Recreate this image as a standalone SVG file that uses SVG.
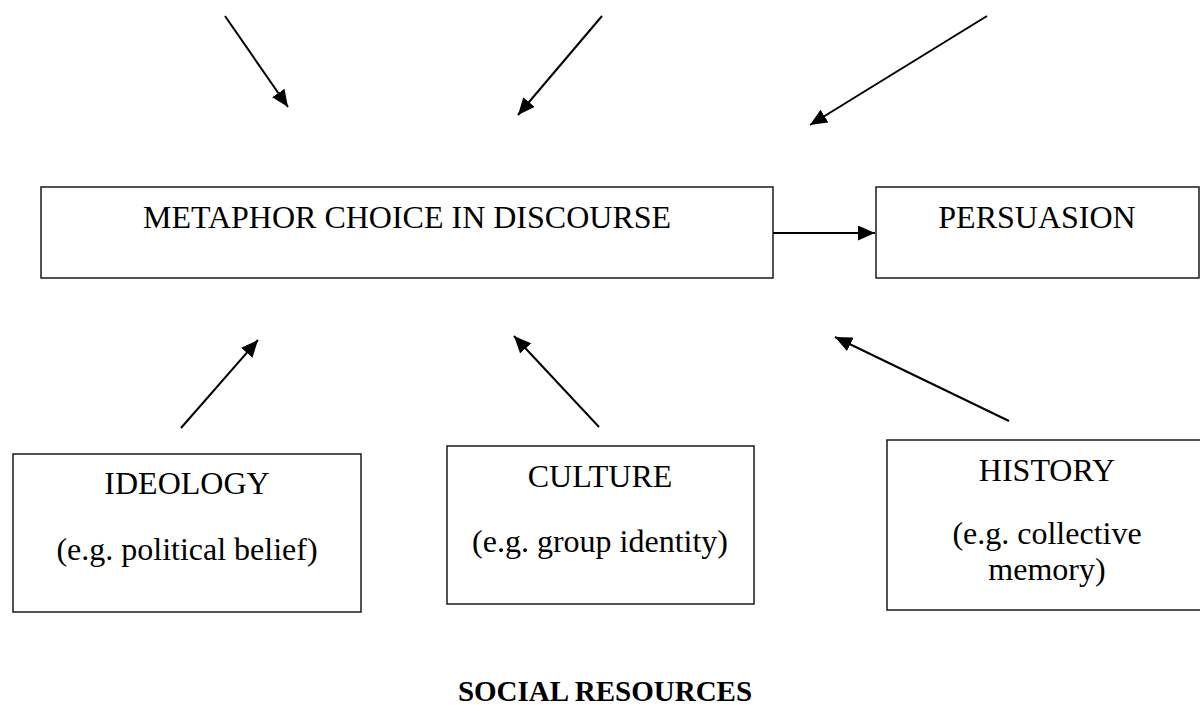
<svg xmlns="http://www.w3.org/2000/svg" width="1200" height="705" viewBox="0 0 1200 705">
  <style>
    .box { fill: #ffffff; stroke: #1a1a1a; stroke-width: 1.5; }
    .lbl { font-family: "Liberation Serif", "Times New Roman", serif; font-size: 32px; fill: #000; text-anchor: middle; }
    .title { font-family: "Liberation Serif", "Times New Roman", serif; font-size: 29px; font-weight: bold; fill: #000; text-anchor: middle; }
    .conn { stroke: #000; stroke-width: 2; fill: none; marker-end: url(#head); }
  </style>
  <defs>
    <marker id="head" markerUnits="userSpaceOnUse" markerWidth="17" markerHeight="15" refX="17" refY="7.5" orient="auto">
      <path d="M0,0 L17,7.5 L0,15 z" fill="#000"/>
    </marker>
  </defs>
  <rect width="1200" height="705" fill="#ffffff"/>

  <g id="metaphor-choice">
    <rect class="box" x="41" y="187" width="732" height="91"/>
    <text class="lbl" x="407" y="228">METAPHOR CHOICE IN DISCOURSE</text>
  </g>

  <g id="persuasion">
    <rect class="box" x="876" y="187" width="323" height="91"/>
    <text class="lbl" x="1037" y="228">PERSUASION</text>
  </g>

  <g id="ideology">
    <rect class="box" x="13" y="454" width="348" height="158"/>
    <text class="lbl" x="187" y="494">IDEOLOGY</text>
    <text class="lbl" x="187" y="560">(e.g. political belief)</text>
  </g>

  <g id="culture">
    <rect class="box" x="447" y="446" width="307" height="158"/>
    <text class="lbl" x="600" y="487">CULTURE</text>
    <text class="lbl" x="600" y="552">(e.g. group identity)</text>
  </g>

  <g id="history">
    <rect class="box" x="887" y="440" width="322" height="170"/>
    <text class="lbl" x="1047" y="481">HISTORY</text>
    <text class="lbl" x="1047" y="544">(e.g. collective</text>
    <text class="lbl" x="1047" y="580">memory)</text>
  </g>

  <g id="social-resources">
    <text class="title" x="605" y="701">SOCIAL RESOURCES</text>
  </g>

  <g id="connectors">
    <line class="conn" x1="225" y1="16" x2="288" y2="107"/>
    <line class="conn" x1="602" y1="16" x2="518" y2="115"/>
    <line class="conn" x1="987" y1="16" x2="810" y2="125"/>
    <line class="conn" x1="773" y1="233" x2="875" y2="233"/>
    <line class="conn" x1="181" y1="428" x2="258" y2="340"/>
    <line class="conn" x1="599" y1="427" x2="514" y2="336"/>
    <line class="conn" x1="1009" y1="421" x2="835" y2="337"/>
  </g>
</svg>
